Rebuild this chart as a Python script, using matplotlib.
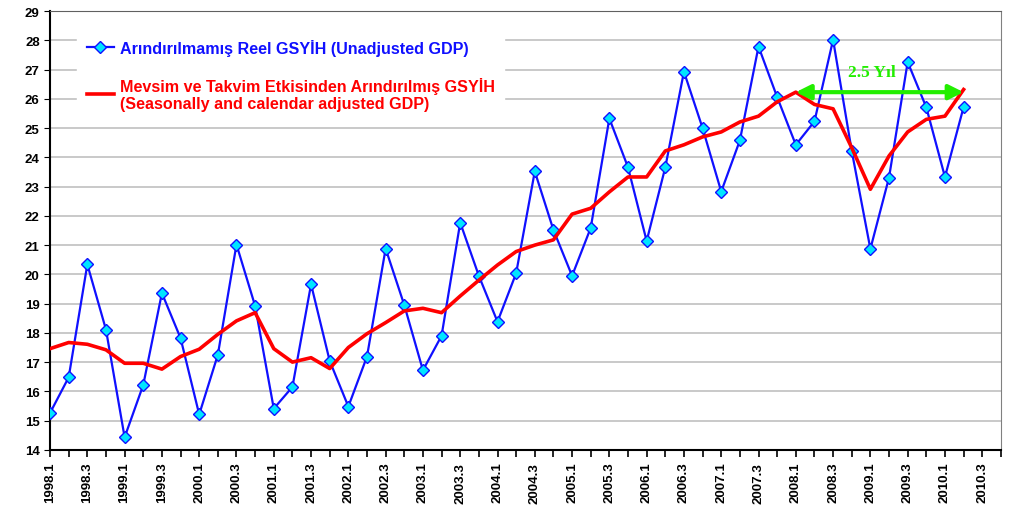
import numpy as np
import matplotlib
matplotlib.use("Agg")
import matplotlib.pyplot as plt

# quarterly periods 1998.1 .. 2010.2
years = list(range(1998, 2011))
periods = [f"{y}.{q}" for y in years for q in range(1, 5)][:50]
tick_labels = [f"{y}.{q}" for y in years for q in (1, 3)]

unadjusted = [15.26, 16.48, 20.34, 18.11, 14.43, 16.22, 19.36, 17.82,
              15.21, 17.25, 21.02, 18.92, 15.41, 16.15, 19.66, 17.04,
              15.48, 17.19, 20.88, 18.95, 16.72, 17.90, 21.77, 19.95,
              18.38, 20.04, 23.52, 21.52, 19.95, 21.59, 25.33, 23.66,
              21.14, 23.66, 26.93, 25.00, 22.83, 24.58, 27.79, 26.06,
              24.43, 25.23, 28.02, 24.22, 20.87, 23.31, 27.26, 25.71,
              23.33, 25.72]
adjusted = [17.46, 17.67, 17.61, 17.42, 16.96, 16.96, 16.76, 17.19,
            17.44, 17.95, 18.41, 18.69, 17.46, 17.00, 17.15, 16.78,
            17.50, 17.97, 18.35, 18.75, 18.84, 18.69, 19.26, 19.80,
            20.32, 20.78, 21.00, 21.18, 22.06, 22.26, 22.82, 23.33,
            23.33, 24.22, 24.43, 24.70, 24.87, 25.21, 25.41, 25.90,
            26.23, 25.81, 25.66, 24.33, 22.91, 24.05, 24.87, 25.30,
            25.41, 26.32]

label_blue = "Arındırılmamış Reel GSYİH (Unadjusted GDP)"
label_red = "Mevsim ve Takvim Etkisinden Arındırılmış GSYİH\n(Seasonally and calendar adjusted GDP)"
span_start, span_end = "2008.1", "2010.2"
span_text = "2.5 Yıl"

plt.rcParams["font.family"] = ["Liberation Sans", "DejaVu Sans"]

x = np.arange(len(periods))
fig = plt.figure(figsize=(10.11, 5.06), dpi=100)
ax = fig.add_axes([0.0495, 0.109, 0.9405, 0.867])

ax.plot(x, unadjusted, color="#1010ff", lw=1.6, marker="D", ms=6.5,
        mfc="#00e5ff", mec="#1010ff", mew=1, label=label_blue, zorder=3)
ax.plot(x, adjusted, color="#ff0000", lw=2.6, label=label_red, zorder=4)

i0, i1 = periods.index(span_start), periods.index(span_end)
ay = adjusted[i0]
ax.annotate("", xy=(i1, ay), xytext=(i0, ay),
            arrowprops=dict(arrowstyle="<|-|>", color="#22ee00", lw=3, mutation_scale=22,
                            shrinkA=0, shrinkB=0), zorder=5)
ax.text((i0 + i1) / 2 - 0.4, ay + 0.7, span_text, color="#22ee00", fontsize=12.5,
        fontweight="bold", family="Liberation Serif", ha="center", va="center", zorder=5)

ax.set_xlim(0, 51)
ax.set_ylim(14, 29)
ax.set_yticks(np.arange(14, 30, 1))
ax.set_xticks(np.arange(0, 51, 2), labels=tick_labels)
ax.set_xticks(np.arange(0, 52, 1), minor=True)
ax.tick_params(axis="x", which="both", direction="out", length=5, width=1.2)
ax.tick_params(axis="x", labelrotation=90, labelsize=9.5)
ax.tick_params(axis="y", direction="out", length=4, labelsize=9.5)
for lab in ax.get_xticklabels() + ax.get_yticklabels():
    lab.set_fontweight("bold")

ax.grid(axis="y", color="#c0c0c0", lw=1.2)
ax.set_axisbelow(True)
ax.spines["left"].set_linewidth(1.5)
ax.spines["bottom"].set_linewidth(1.5)
ax.spines["top"].set_color("#606060")
ax.spines["right"].set_color("#808080")

leg = ax.legend(loc="upper left", bbox_to_anchor=(0.02, 0.977), frameon=True, framealpha=1,
                edgecolor="white", fancybox=False, handlelength=1.7, handletextpad=0.35,
                labelspacing=1.3, borderpad=0.6, prop=dict(weight="bold", size=11.6))
for txt, c in zip(leg.get_texts(), ["#1010ff", "#ff0000"]):
    txt.set_color(c)
leg.set_zorder(6)

fig.savefig("out.png", dpi=100)
plt.close(fig)
